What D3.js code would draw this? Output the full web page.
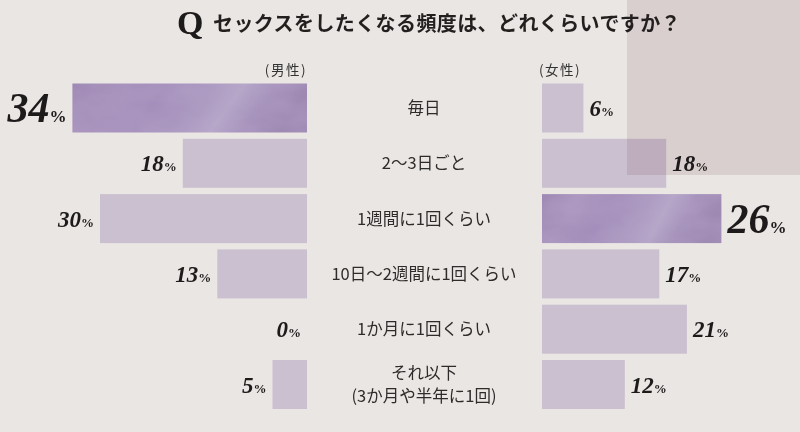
<!DOCTYPE html>
<html><head><meta charset="utf-8">
<script src="https://cdn.jsdelivr.net/npm/d3@7"></script>
<style>
html,body{margin:0;padding:0;background:#e9e6e3;}
svg{display:block;}
</style></head>
<body>
<script>
const categories = ["毎日", "2〜3日ごと", "1週間に1回くらい", "10日〜2週間に1回くらい", "1か月に1回くらい", "それ以下|(3か月や半年に1回)"];
const maleValues = [34, 18, 30, 13, 0, 5];
const femaleValues = [6, 18, 26, 17, 21, 12];
const title = "セックスをしたくなる頻度は、どれくらいですか？";
const maleLabel = "(男性)";
const femaleLabel = "(女性)";

const W = 800, H = 432;
const svg = d3.select("body").append("svg").attr("width", W).attr("height", H);

const defs = svg.append("defs");
const grad = defs.append("linearGradient").attr("id", "hl").attr("x1", "0").attr("y1", "0").attr("x2", "1").attr("y2", "0.15");
[[0, "#9f89b4"], [0.2, "#a893bd"], [0.4, "#a38ebb"], [0.62, "#ad9bc2"], [0.72, "#b5a6c8"], [0.85, "#a692bc"], [1, "#9e89b3"]]
  .forEach(([o, c]) => grad.append("stop").attr("offset", o).attr("stop-color", c));
const f = defs.append("filter").attr("id", "tex").attr("x", 0).attr("y", 0).attr("width", 1).attr("height", 1);
f.append("feTurbulence").attr("type", "fractalNoise").attr("baseFrequency", "0.025 0.05").attr("numOctaves", 3).attr("seed", 7).attr("result", "n");
f.append("feColorMatrix").attr("in", "n").attr("type", "matrix")
  .attr("values", "0 0 0 0 0.50  0 0 0 0 0.40  0 0 0 0 0.60  0 0 0 0.45 -0.12").attr("result", "a");
f.append("feComposite").attr("in", "a").attr("in2", "SourceGraphic").attr("operator", "atop");

// background
svg.append("rect").attr("width", W).attr("height", H).attr("fill", "#e9e6e3");
svg.append("rect").attr("x", 627).attr("y", 0).attr("width", 173).attr("height", 175).attr("fill", "#dacfcf");

// title
svg.append("text").attr("x", 177).attr("y", 34).attr("font-family", "Liberation Serif, serif")
  .attr("font-weight", "bold").attr("font-size", 34).attr("fill", "#1c1a1a").text("Q");
svg.append("text").attr("x", 213).attr("y", 31).attr("font-family", "Noto Sans CJK JP")
  .attr("font-weight", "bold").attr("font-size", 20).attr("letter-spacing", 0.4).attr("fill", "#231f1f").text(title);

const y = d3.scaleBand().domain(categories).range([80.35, 412.15]).paddingInner(0.114).paddingOuter(0.057);
const xM = d3.scaleLinear().domain([0, 40]).range([307, 31]);
const xF = d3.scaleLinear().domain([0, 40]).range([542, 818]);
const maxM = d3.max(maleValues), maxF = d3.max(femaleValues);

svg.append("text").attr("x", 307).attr("y", 75).attr("text-anchor", "end").attr("font-family", "Noto Sans CJK JP")
  .attr("font-size", 13.5).attr("letter-spacing", 1.5).attr("fill", "#333").text(maleLabel);
svg.append("text").attr("x", 539).attr("y", 75).attr("font-family", "Noto Sans CJK JP")
  .attr("font-size", 13.5).attr("letter-spacing", 1.5).attr("fill", "#333").text(femaleLabel);

function bars(vals, x, side, maxV) {
  const g = svg.append("g");
  vals.forEach((v, i) => {
    const c = categories[i];
    const x0 = Math.min(x(0), x(v)), w = Math.abs(x(v) - x(0));
    const isMax = v === maxV;
    if (isMax) {
      g.append("rect").attr("x", x0).attr("y", y(c)).attr("width", w).attr("height", y.bandwidth())
        .attr("fill", "url(#hl)").attr("filter", "url(#tex)");
    } else {
      g.append("rect").attr("x", x0).attr("y", y(c)).attr("width", w).attr("height", y.bandwidth())
        .attr("fill", "#dfd5e9").style("mix-blend-mode", "multiply");
    }
    const cy = y(c) + y.bandwidth() / 2;
    const t = g.append("text")
      .attr("x", side === "left" ? x(v) - 6 : x(v) + 6)
      .attr("y", cy + (isMax ? 14 : 8))
      .attr("text-anchor", side === "left" ? "end" : "start")
      .attr("font-family", "Liberation Serif, serif").attr("fill", "#1c1a1a");
    t.append("tspan").attr("font-size", isMax ? 42 : 23).attr("font-style", "italic").attr("font-weight", "bold").text(v);
    t.append("tspan").attr("font-size", isMax ? 17 : 13).attr("font-weight", "bold").text("%");
  });
}
bars(maleValues, xM, "left", maxM);
bars(femaleValues, xF, "right", maxF);

// category labels
const cx = 424;
categories.forEach(c => {
  const lines = c.split("|");
  const cy = y(c) + y.bandwidth() / 2;
  const t = svg.append("text").attr("text-anchor", "middle").attr("font-family", "Noto Sans CJK JP")
    .attr("font-size", 16.5).attr("fill", "#2e2b2b");
  lines.forEach((l, k) => {
    const off = lines.length === 1 ? 6 : (k === 0 ? -5.5 : 17);
    t.append("tspan").attr("x", cx).attr("y", cy + off).text(l);
  });
});
</script>
</body></html>
